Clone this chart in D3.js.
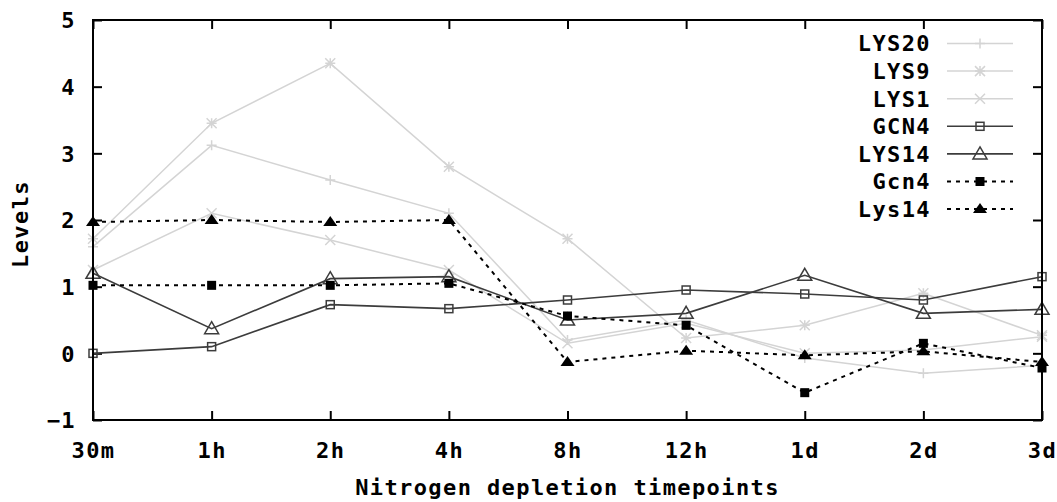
<!DOCTYPE html>
<html><head><meta charset="utf-8">
<script src="https://cdn.jsdelivr.net/npm/d3@7"></script>
<style>
html,body{margin:0;padding:0;background:#fff;}
svg text{font-family:"DejaVu Sans Mono","Liberation Mono",monospace;font-weight:bold;font-size:22px;letter-spacing:1.4px;fill:#000;}
</style></head>
<body><svg id="c" width="1057" height="502"></svg>
<script>
const categories = ["30m","1h","2h","4h","8h","12h","1d","2d","3d"];
const yTicks = [-1,0,1,2,3,4,5];
const LYS20 = [1.6, 3.12, 2.6, 2.1, 0.2, 0.5, -0.07, -0.3, -0.18];
const LYS9  = [1.72, 3.45, 4.35, 2.8, 1.72, 0.23, 0.42, 0.9, 0.27];
const LYS1  = [1.25, 2.1, 1.7, 1.25, 0.15, 0.45, 0.0, 0.05, 0.25];
const GCN4  = [0.0, 0.1, 0.73, 0.67, 0.8, 0.95, 0.89, 0.8, 1.15];
const LYS14 = [1.2, 0.37, 1.12, 1.15, 0.5, 0.6, 1.17, 0.6, 0.66];
const Gcn4  = [1.02, 1.02, 1.02, 1.05, 0.56, 0.42, -0.59, 0.15, -0.22];
const Lys14 = [1.97, 2.0, 1.97, 2.0, -0.13, 0.04, -0.03, 0.03, -0.13];

const series = [
  {name:"LYS20", values:LYS20, color:"#d4d4d4", dash:null, marker:"plus", w:1.5},
  {name:"LYS9",  values:LYS9,  color:"#d4d4d4", dash:null, marker:"star", w:1.5},
  {name:"LYS1",  values:LYS1,  color:"#d4d4d4", dash:null, marker:"cross", w:1.5},
  {name:"GCN4",  values:GCN4,  color:"#3c3c3c", dash:null, marker:"osquare", w:1.6},
  {name:"LYS14", values:LYS14, color:"#3c3c3c", dash:null, marker:"otri", w:1.6},
  {name:"Gcn4",  values:Gcn4,  color:"#000", dash:"4,5", marker:"fsquare", w:2},
  {name:"Lys14", values:Lys14, color:"#000", dash:"4,5", marker:"ftri", w:2}
];

const svg = d3.select("#c");
const L=93, R=1042, T=20, B=420;
const x = d3.scalePoint().domain(categories).range([L,R]).padding(0);
const y = d3.scaleLinear().domain([-1,5]).range([B,T]);

function drawMarker(g, type, cx, cy, color){
  const s = 5;
  if(type==="plus"){
    g.append("path").attr("d",`M${cx-s},${cy}H${cx+s}M${cx},${cy-s}V${cy+s}`).attr("stroke",color).attr("stroke-width",1.5).attr("fill","none");
  } else if(type==="cross"){
    g.append("path").attr("d",`M${cx-s},${cy-s}L${cx+s},${cy+s}M${cx-s},${cy+s}L${cx+s},${cy-s}`).attr("stroke",color).attr("stroke-width",1.5).attr("fill","none");
  } else if(type==="star"){
    g.append("path").attr("d",`M${cx-s},${cy}H${cx+s}M${cx},${cy-s}V${cy+s}M${cx-s},${cy-s}L${cx+s},${cy+s}M${cx-s},${cy+s}L${cx+s},${cy-s}`).attr("stroke",color).attr("stroke-width",1.5).attr("fill","none");
  } else if(type==="osquare"){
    g.append("rect").attr("x",cx-4).attr("y",cy-4).attr("width",8).attr("height",8).attr("stroke",color).attr("stroke-width",1.5).attr("fill","none");
  } else if(type==="fsquare"){
    g.append("rect").attr("x",cx-4.5).attr("y",cy-4.5).attr("width",9).attr("height",9).attr("fill",color);
  } else if(type==="otri"){
    g.append("path").attr("d",`M${cx},${cy-7}L${cx+7},${cy+5}L${cx-7},${cy+5}Z`).attr("stroke",color).attr("stroke-width",1.5).attr("fill","none");
  } else if(type==="ftri"){
    g.append("path").attr("d",`M${cx},${cy-6}L${cx+7},${cy+4}L${cx-7},${cy+4}Z`).attr("fill",color);
  }
}

const gx = svg.append("g").attr("transform",`translate(0,${B})`)
  .call(d3.axisBottom(x).tickSize(-9).tickPadding(22));
const gxt = svg.append("g").attr("transform",`translate(0,${T})`)
  .call(d3.axisTop(x).tickSize(-9).tickFormat(""));
const gy = svg.append("g").attr("transform",`translate(${L},0)`)
  .call(d3.axisLeft(y).tickValues(yTicks).tickSize(-9).tickPadding(17).tickFormat(d3.format("d")));
const gyr = svg.append("g").attr("transform",`translate(${R},0)`)
  .call(d3.axisRight(y).tickValues(yTicks).tickSize(-9).tickFormat(""));
[gx,gxt,gy,gyr].forEach(g=>{
  g.select(".domain").remove();
  g.selectAll(".tick line").attr("stroke","#000").attr("stroke-width",2);
  g.selectAll("text").attr("font-family",null).attr("font-size",null).attr("fill","#000");
});
gy.selectAll(".tick text").attr("dy","0.36em");

const line = d3.line().x((d,i)=>x(categories[i])).y(d=>y(d));
series.forEach(s=>{
  const g = svg.append("g");
  g.append("path").attr("d",line(s.values)).attr("fill","none").attr("stroke",s.color)
    .attr("stroke-width",s.w).attr("stroke-dasharray",s.dash);
  s.values.forEach((v,i)=>drawMarker(g,s.marker,x(categories[i]),y(v),s.color));
});

svg.append("rect").attr("x",L).attr("y",T).attr("width",R-L).attr("height",B-T)
  .attr("fill","none").attr("stroke","#000").attr("stroke-width",2);

const lg = svg.append("g");
series.forEach((s,i)=>{
  const cy = 43.5 + i*27.6;
  lg.append("text").attr("x",931).attr("y",cy).attr("dy","0.36em").attr("text-anchor","end").text(s.name);
  lg.append("line").attr("x1",947).attr("x2",1013).attr("y1",cy).attr("y2",cy)
    .attr("stroke",s.color).attr("stroke-width",s.w).attr("stroke-dasharray",s.dash);
  drawMarker(lg,s.marker,980,cy,s.color);
});

svg.append("text").attr("x",(L+R)/2).attr("y",495).attr("text-anchor","middle").text("Nitrogen depletion timepoints");
svg.append("text").attr("transform","translate(28,224) rotate(-90)").attr("text-anchor","middle").text("Levels");
</script></body></html>
